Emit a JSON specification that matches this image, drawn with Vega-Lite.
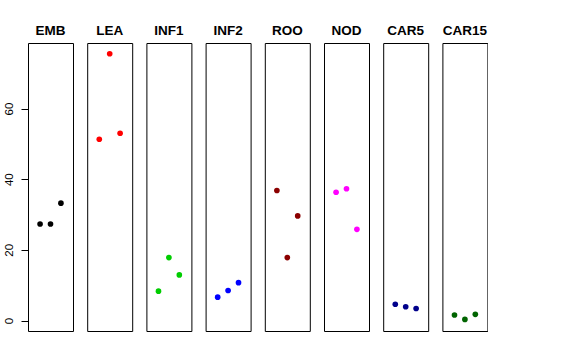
{
  "$schema": "https://vega.github.io/schema/vega-lite/v6.json",
  "padding": {"left": 3, "top": 23, "right": 0, "bottom": 0},
  "background": "white",
  "bounds": "flush",
  "data": {"values": [
    {"panel": "EMB", "idx": 1, "value": 27.3},
    {"panel": "EMB", "idx": 2, "value": 27.3},
    {"panel": "EMB", "idx": 3, "value": 33.2},
    {"panel": "LEA", "idx": 1, "value": 51.3},
    {"panel": "LEA", "idx": 2, "value": 75.5},
    {"panel": "LEA", "idx": 3, "value": 53.0},
    {"panel": "INF1", "idx": 1, "value": 8.3},
    {"panel": "INF1", "idx": 2, "value": 17.8},
    {"panel": "INF1", "idx": 3, "value": 12.9},
    {"panel": "INF2", "idx": 1, "value": 6.6},
    {"panel": "INF2", "idx": 2, "value": 8.5},
    {"panel": "INF2", "idx": 3, "value": 10.7},
    {"panel": "ROO", "idx": 1, "value": 36.8},
    {"panel": "ROO", "idx": 2, "value": 17.8},
    {"panel": "ROO", "idx": 3, "value": 29.6},
    {"panel": "NOD", "idx": 1, "value": 36.3},
    {"panel": "NOD", "idx": 2, "value": 37.3},
    {"panel": "NOD", "idx": 3, "value": 25.8},
    {"panel": "CAR5", "idx": 1, "value": 4.6},
    {"panel": "CAR5", "idx": 2, "value": 3.9},
    {"panel": "CAR5", "idx": 3, "value": 3.4},
    {"panel": "CAR15", "idx": 1, "value": 1.55},
    {"panel": "CAR15", "idx": 2, "value": 0.3},
    {"panel": "CAR15", "idx": 3, "value": 1.75}
  ]},
  "facet": {
    "column": {
      "field": "panel",
      "type": "nominal",
      "sort": ["EMB", "LEA", "INF1", "INF2", "ROO", "NOD", "CAR5", "CAR15"],
      "title": null,
      "header": {
        "labelFont": "Liberation Sans",
        "labelFontSize": 13.5,
        "labelFontWeight": "bold",
        "labelColor": "black",
        "labelBaseline": "alphabetic",
        "labelPadding": -5
      }
    }
  },
  "spacing": 14.2,
  "spec": {
    "width": 45,
    "height": 288,
    "mark": {"type": "point", "filled": true, "size": 32, "opacity": 1},
    "encoding": {
      "x": {
        "field": "idx",
        "type": "quantitative",
        "scale": {"domain": [-0.16, 4.16], "nice": false, "zero": false},
        "axis": null
      },
      "y": {
        "field": "value",
        "type": "quantitative",
        "scale": {"domain": [-2.97, 78.54], "nice": false, "zero": false},
        "axis": {
          "title": null,
          "values": [0, 20, 40, 60],
          "grid": false,
          "domain": false,
          "tickSize": 7,
          "tickColor": "black",
          "labelAngle": -90,
          "labelAlign": "center",
          "labelBaseline": "alphabetic",
          "labelPadding": 9,
          "labelFont": "Liberation Sans",
          "labelFontSize": 11.5,
          "labelColor": "black"
        }
      },
      "color": {
        "field": "panel",
        "type": "nominal",
        "scale": {
          "domain": ["EMB", "LEA", "INF1", "INF2", "ROO", "NOD", "CAR5", "CAR15"],
          "range": ["#000000", "#FF0000", "#00CD00", "#0000FF", "#8B0000", "#FF00FF", "#00008B", "#006400"]
        },
        "legend": null
      }
    }
  },
  "config": {
    "view": {"stroke": "black", "strokeWidth": 1}
  }
}
